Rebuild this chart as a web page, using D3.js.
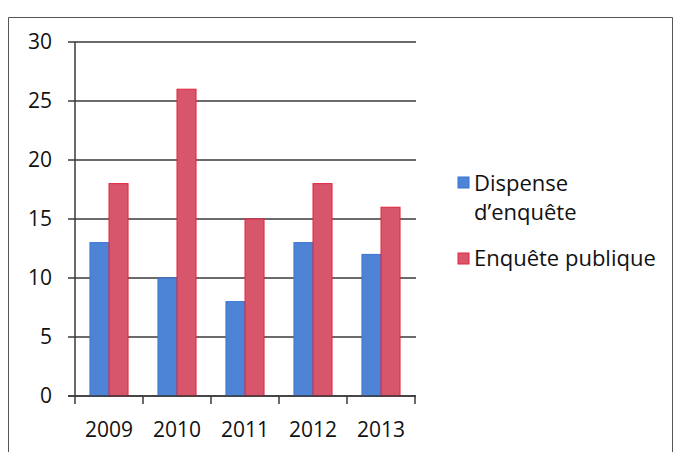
<!DOCTYPE html>
<html>
<head>
<meta charset="utf-8">
<script src="https://cdn.jsdelivr.net/npm/d3@7"></script>
<style>
  body { margin: 0; background: #fff; }
  text { font-family: "Open Sans", sans-serif; fill: #111; }
</style>
</head>
<body>
<div id="chart"></div>
<script>
var years = ["2009", "2010", "2011", "2012", "2013"];
var dispense = [13, 10, 8, 13, 12];
var enquete = [18, 26, 15, 18, 16];
var seriesNames = ["Dispense d\u2019enquête", "Enquête publique"];
var yTicks = [0, 5, 10, 15, 20, 25, 30];

var width = 674, height = 452;
var fills = ["#4d84d6", "#d8566c"];
var strokes = ["#3d73d2", "#e0263f"];

var svg = d3.select("#chart")
  .append("svg")
  .attr("width", width)
  .attr("height", height);

// frame around the chart
svg.append("path")
  .attr("d", "M8.5," + height + " L8.5,17.5 L" + (width - 1.5) + ",17.5 L" + (width - 1.5) + "," + height)
  .attr("fill", "none")
  .attr("stroke", "#555")
  .attr("stroke-width", 1);

var x = d3.scaleBand().domain(years).range([75, 415]).padding(0);
var y = d3.scaleLinear().domain([0, 30]).range([396, 42]);

var plot = svg.append("g");

// gridlines
plot.selectAll("line.grid")
  .data(yTicks)
  .enter()
  .append("line")
  .attr("class", "grid")
  .attr("x1", 68)
  .attr("x2", 416)
  .attr("y1", d => y(d))
  .attr("y2", d => y(d))
  .attr("stroke", "#3a3a3a")
  .attr("stroke-width", 1.5);

// y axis line
plot.append("line")
  .attr("x1", 75).attr("x2", 75)
  .attr("y1", y(30)).attr("y2", y(0))
  .attr("stroke", "#3a3a3a")
  .attr("stroke-width", 1.5);

// bars
var inner = x.bandwidth() * 0.22;
var barW = (x.bandwidth() - 2 * inner) / 2;
var series = [dispense, enquete];
series.forEach(function(vals, s) {
  plot.selectAll("rect.s" + s)
    .data(vals)
    .enter()
    .append("rect")
    .attr("class", "s" + s)
    .attr("x", (d, i) => x(years[i]) + inner + s * barW)
    .attr("y", d => y(d))
    .attr("width", barW)
    .attr("height", d => y(0) - y(d))
    .attr("fill", fills[s])
    .attr("stroke", strokes[s])
    .attr("stroke-width", 1);
});

// x axis
var xAxis = d3.axisBottom(x).tickSize(0).tickSizeOuter(0);
var gx = plot.append("g")
  .attr("transform", "translate(0," + y(0) + ")")
  .call(xAxis);
gx.select(".domain").remove();
gx.selectAll("text")
  .attr("dy", null)
  .attr("y", 41)
  .style("font-size", "21px")
  .style("font-family", "'Open Sans', sans-serif")
  .attr("fill", "#111");

plot.append("line")
  .attr("x1", 68).attr("x2", 416)
  .attr("y1", y(0)).attr("y2", y(0))
  .attr("stroke", "#3a3a3a")
  .attr("stroke-width", 1.5);

var bounds = years.map(d => x(d)).concat([x.range()[1]]);
plot.selectAll("line.xtick")
  .data(bounds)
  .enter()
  .append("line")
  .attr("class", "xtick")
  .attr("x1", d => d).attr("x2", d => d)
  .attr("y1", y(0)).attr("y2", y(0) + 8)
  .attr("stroke", "#3a3a3a")
  .attr("stroke-width", 1.5);

// y labels
var yAxis = d3.axisLeft(y).tickValues(yTicks).tickSize(0);
var gy = plot.append("g")
  .attr("transform", "translate(52,0)")
  .call(yAxis);
gy.select(".domain").remove();
gy.selectAll("text")
  .attr("x", 0)
  .style("font-size", "21px")
  .style("font-family", "'Open Sans', sans-serif")
  .attr("fill", "#111");

// legend
var legend = svg.append("g").attr("transform", "translate(458,0)");
legend.append("rect")
  .attr("x", 0).attr("y", 177).attr("width", 11).attr("height", 11)
  .attr("fill", fills[0]).attr("stroke", strokes[0]);
var t1 = legend.append("text").attr("x", 16).attr("y", 191).style("font-size", "22px");
t1.append("tspan").attr("x", 16).text("Dispense");
t1.append("tspan").attr("x", 16).attr("dy", 29).text("d\u2019enquête");

legend.append("rect")
  .attr("x", 0).attr("y", 253).attr("width", 11).attr("height", 11)
  .attr("fill", fills[1]).attr("stroke", strokes[1]);
legend.append("text").attr("x", 16).attr("y", 266).style("font-size", "22px")
  .text(seriesNames[1]);
</script>
</body>
</html>
